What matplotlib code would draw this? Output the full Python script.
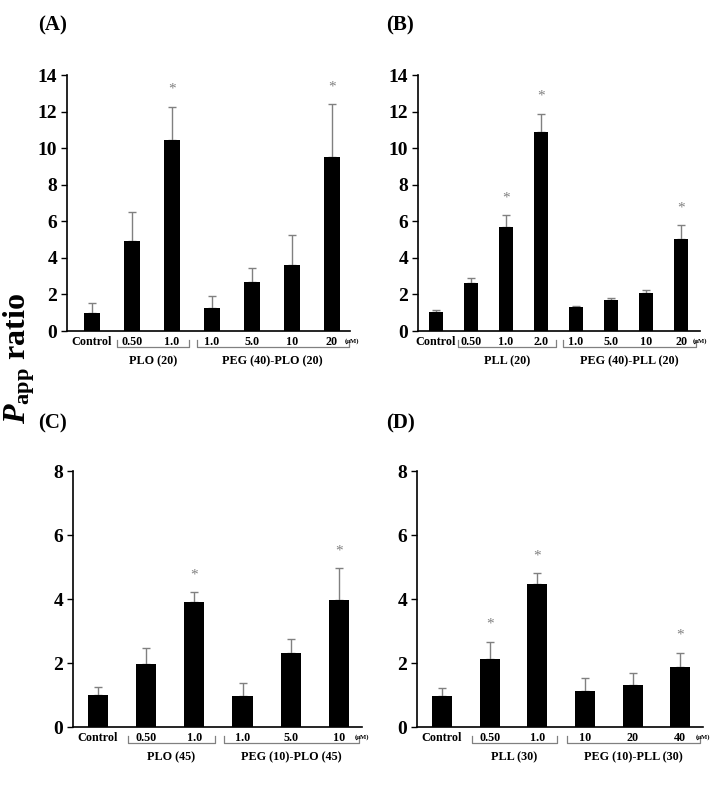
import matplotlib
matplotlib.use("Agg")
import matplotlib.pyplot as plt

plt.rcParams['font.family'] = ['Liberation Serif', 'DejaVu Serif']
plt.rcParams['font.weight'] = 'bold'
plt.rcParams['mathtext.fontset'] = 'custom'
plt.rcParams['mathtext.rm'] = 'Liberation Serif:bold'
plt.rcParams['mathtext.bf'] = 'Liberation Serif:bold'
plt.rcParams['mathtext.it'] = 'Liberation Serif:bold:italic'

# panel (A)
a_labels = ["Control", "0.50", "1.0", "1.0", "5.0", "10", "20"]
a_mean = [1.0, 4.9, 10.47, 1.24, 2.68, 3.62, 9.49]
a_err = [0.55, 1.6, 1.79, 0.67, 0.74, 1.64, 2.9]
a_star = [2, 6]
a_groups = [("PLO (20)", 1, 2), ("PEG (40)-PLO (20)", 3, 6)]

# panel (B)
b_labels = ["Control", "0.50", "1.0", "2.0", "1.0", "5.0", "10", "20"]
b_mean = [1.02, 2.62, 5.68, 10.91, 1.33, 1.69, 2.06, 5.01]
b_err = [0.12, 0.27, 0.64, 0.98, 0.04, 0.1, 0.16, 0.76]
b_star = [2, 3, 7]
b_groups = [("PLL (20)", 1, 3), ("PEG (40)-PLL (20)", 4, 7)]

# panel (C)
c_labels = ["Control", "0.50", "1.0", "1.0", "5.0", "10"]
c_mean = [1.0, 1.96, 3.9, 0.97, 2.32, 3.96]
c_err = [0.24, 0.52, 0.32, 0.4, 0.43, 1.0]
c_star = [2, 5]
c_groups = [("PLO (45)", 1, 2), ("PEG (10)-PLO (45)", 3, 5)]

# panel (D)
d_labels = ["Control", "0.50", "1.0", "10", "20", "40"]
d_mean = [0.98, 2.13, 4.47, 1.13, 1.30, 1.86]
d_err = [0.24, 0.54, 0.34, 0.41, 0.40, 0.46]
d_star = [1, 2, 5]
d_groups = [("PLL (30)", 1, 2), ("PEG (10)-PLL (30)", 3, 5)]

W, H = 719, 791
GRAY = "#808080"


def px_axes(fig, x0, x1, y0, y1):
    return fig.add_axes([x0 / W, (H - y1) / H, (x1 - x0) / W, (y1 - y0) / H])


def draw_panel(ax, labels, mean, err, stars, groups, ymax, xlim):
    x = list(range(len(labels)))
    ax.bar(x, mean, width=0.42, color="black", zorder=2)
    ax.errorbar(x, mean, yerr=[[0] * len(err), err], fmt="none",
                ecolor=GRAY, elinewidth=1.0, capsize=3, capthick=1.0, zorder=1)
    for i in stars:
        ax.annotate("*", (i, mean[i] + err[i]), xytext=(0, 10),
                    textcoords="offset points", ha="center", va="baseline",
                    color=GRAY, fontsize=11, fontweight="normal")
    ax.set_xlim(*xlim)
    ax.set_ylim(0, ymax)
    ax.set_yticks(range(0, ymax + 1, 2))
    ax.set_xticks(x)
    ax.set_xticklabels(labels, fontsize=8.7)
    ax.tick_params(axis="x", length=0, pad=3.5)
    ax.tick_params(axis="y", length=4, width=1, labelsize=14, pad=3)
    for s in ("top", "right"):
        ax.spines[s].set_visible(False)
    for s in ("left", "bottom"):
        ax.spines[s].set_linewidth(1.2)
    tr = ax.get_xaxis_transform()
    for name, first, last in groups:
        x0, x1 = first - 0.38, last + 0.42
        ax.plot([x0, x0, x1, x1], [-0.035, -0.062, -0.062, -0.035],
                color=GRAY, lw=0.9, transform=tr, clip_on=False)
        ax.text((x0 + x1) / 2, -0.118, name, transform=tr, ha="center",
                va="center", fontsize=8.7)
    ax.text(len(labels) - 1 + 0.32, -0.038, "(\u03bcM)", transform=tr,
            ha="left", va="center", fontsize=4.8)


fig = plt.figure(figsize=(W / 100, H / 100), dpi=100)

ax_a = px_axes(fig, 67, 350, 75, 331)
draw_panel(ax_a, a_labels, a_mean, a_err, a_star, a_groups, 14, (-0.625, 6.45))
ax_b = px_axes(fig, 418, 700, 75, 331)
draw_panel(ax_b, b_labels, b_mean, b_err, b_star, b_groups, 14, (-0.51, 7.54))
ax_c = px_axes(fig, 73, 362, 471, 727)
draw_panel(ax_c, c_labels, c_mean, c_err, c_star, c_groups, 8, (-0.52, 5.48))
ax_d = px_axes(fig, 417, 703, 471, 727)
draw_panel(ax_d, d_labels, d_mean, d_err, d_star, d_groups, 8, (-0.525, 5.48))

for lab, xp, yp in [("(A)", 38, 25), ("(B)", 386, 25), ("(C)", 38, 423), ("(D)", 386, 423)]:
    fig.text(xp / W, (H - yp) / H, lab, ha="left", va="center", fontsize=15)

fig.text(1 / W, (H - 358) / H, r"$\mathit{P}_{\mathrm{app}}$ ratio", rotation=90,
         ha="left", va="center", fontsize=23)

fig.savefig("out.png", dpi=100)
